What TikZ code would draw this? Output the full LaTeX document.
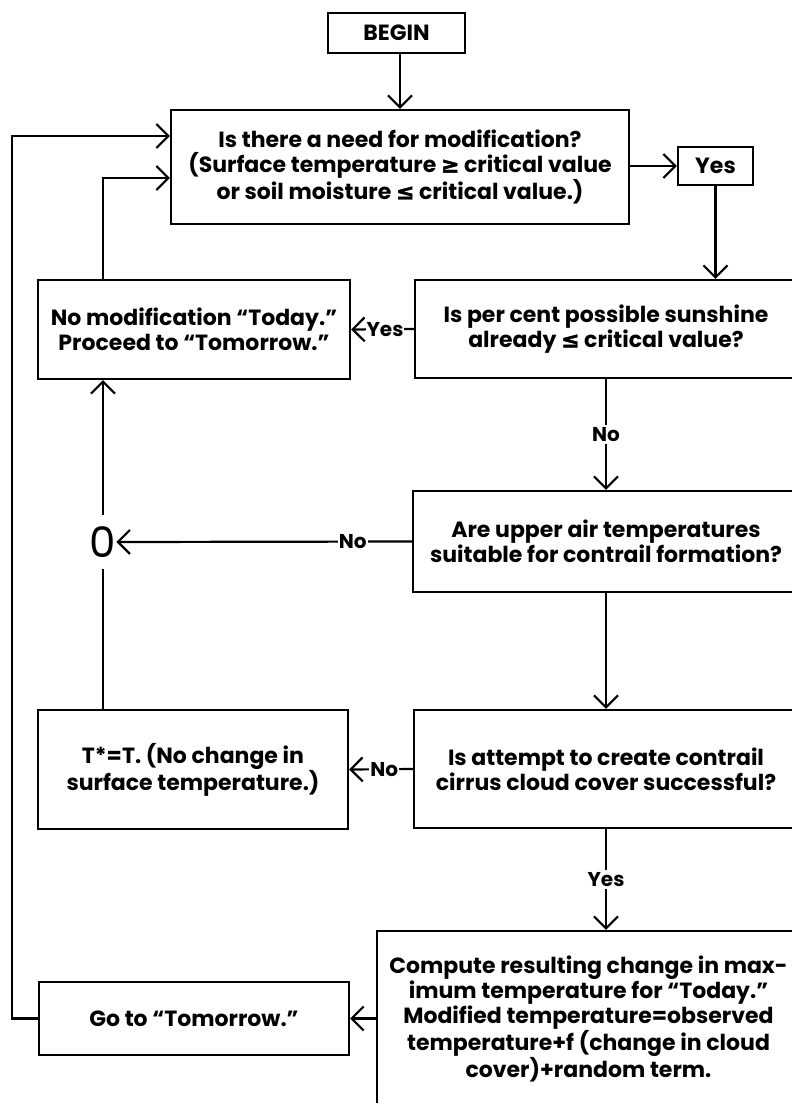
\documentclass[tikz,border=0pt]{standalone}
\usepackage{fontspec}
\setmainfont{Poppins}
\newfontfamily\dv{DejaVu Sans}[FakeBold=2]
\usetikzlibrary{arrows.meta}
\begin{document}
\begin{tikzpicture}[x=1pt,y=-1pt,
  every node/.style={font=\fontsize{22}{25}\selectfont\bfseries},
  box/.style={draw,line width=2.2pt,inner sep=0pt,align=center},
  arr/.style={line width=2.2pt,-{Straight Barb[length=12pt,width=24pt,line width=2.2pt]}},
  ln/.style={line width=2.2pt},
  lab/.style={fill=white,inner xsep=1pt,inner ysep=2pt,font=\fontsize{20}{22}\selectfont\bfseries}]
\useasboundingbox (0,0) rectangle (792,1103);
\clip (0,0) rectangle (792,1103);
\node[box,minimum width=137pt,minimum height=40pt] (begin) at (396.5,33) {BEGIN};
\node[box,minimum width=458pt,minimum height=114pt] (main) at (400,167)
  {Is there a need for modification?\\(Surface temperature {\dv ≥} critical value\\or soil moisture {\dv ≤} critical value.)};
\node[box,minimum width=75pt,minimum height=38pt] (yes) at (715.5,166) {Yes};
\node[box,minimum width=312pt,minimum height=99pt] (nomod) at (194,329.5)
  {No modification “Today.”\\Proceed to “Tomorrow.”};
\node[box,minimum width=382pt,minimum height=98pt] (sun) at (606,329)
  {Is per cent possible sunshine\\already {\dv ≤} critical value?};
\node[box,minimum width=386pt,minimum height=101pt] (upper) at (606,541.5)
  {Are upper air temperatures\\suitable for contrail formation?};
\node[inner sep=0pt,minimum height=54pt,minimum width=24pt,font=\fontsize{42}{42}\selectfont] (zero) at (103,542) {0};
\node[box,minimum width=310pt,minimum height=119pt] (tstar) at (193,769.5)
  {T*=T. (No change in\\surface temperature.)};
\node[box,minimum width=384pt,minimum height=118pt] (cirrus) at (606,769)
  {Is attempt to create contrail\\cirrus cloud cover successful?};
\node[box,minimum width=310pt,minimum height=73pt] (goto) at (194,1018.5)
  {Go to “Tomorrow.”};
\node[box,minimum width=423pt,minimum height=176pt] (compute) at (588.5,1019)
  {Compute resulting change in max-\\imum temperature for “Today.”\\Modified temperature=observed\\temperature+f (change in cloud\\cover)+random term.};
\coordinate (outer) at (12,136);
\coordinate (inner) at (103,178);
% connectors
\draw[arr] (main.north |- begin.south) -- (main.north);
\draw[arr] (main.east |- yes.west) -- (yes.west);
\draw[arr] (yes.south) -- (yes.south |- sun.north);
\draw[arr] (sun.west) -- node[lab,pos=0.46] {Yes} (nomod.east);
\draw[arr] (sun.south) -- node[lab] {No} (upper.north);
\draw[arr] (upper.west) -- node[lab,pos=0.2] {No} (zero.east);
\draw[arr] (zero.north) -- (zero.north |- nomod.south);
\draw[ln] (zero.south) -- (zero.south |- tstar.north);
\draw[arr] (upper.south) -- (cirrus.north);
\draw[arr] (cirrus.west) -- node[lab,pos=0.45] {No} (tstar.east);
\draw[arr] (cirrus.south) -- node[lab] {Yes} (cirrus.south |- compute.north);
\draw[arr] (compute.west |- goto.east) -- (goto.east);
\draw[arr] (goto.west) -| (outer) -- (outer -| main.west);
\draw[arr] (inner |- nomod.north) -- (inner) -- (inner -| main.west);
\end{tikzpicture}
\end{document}
